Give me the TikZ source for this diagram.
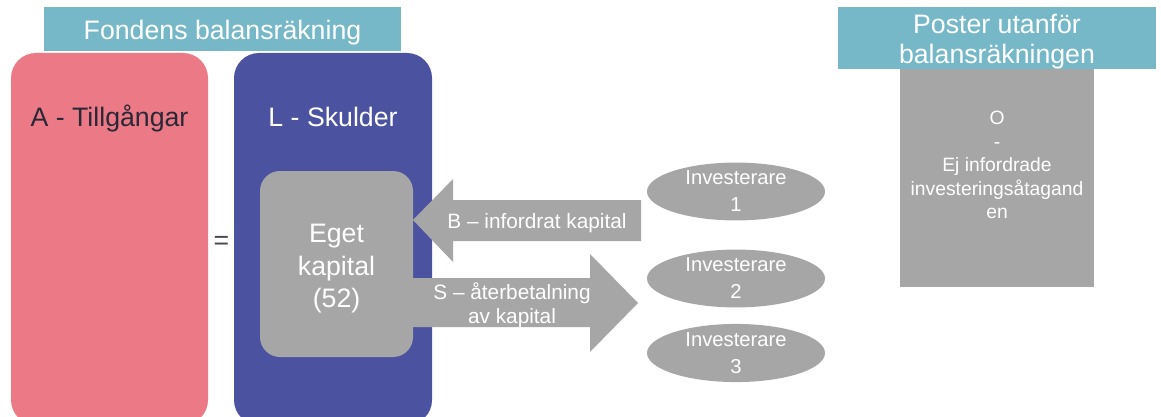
\documentclass[tikz,border=0pt]{standalone}
\usepackage{fontspec}
\setmainfont{Liberation Sans}
\usetikzlibrary{shapes.geometric}
\definecolor{bannerteal}{RGB}{118,184,200}
\definecolor{assetpink}{RGB}{236,122,134}
\definecolor{debtblue}{RGB}{75,83,160}
\definecolor{boxgrey}{RGB}{166,166,166}
\definecolor{darktext}{RGB}{40,40,55}
\begin{document}
\begin{tikzpicture}[x=1pt, y=-1pt,
        banner/.style={fill=bannerteal, inner sep=0pt},
        bannertext/.style={text=white, align=center, inner sep=0pt, font=\fontsize{26.7}{30}\selectfont},
        bigbox/.style={rounded corners=25pt, inner sep=0pt},
        boxname/.style={anchor=base, inner sep=0pt, font=\fontsize{26.7}{30}\selectfont},
        greybox/.style={fill=boxgrey, inner sep=0pt},
        investor/.style={ellipse, fill=boxgrey, text=white, align=center, inner sep=0pt, minimum width=178pt, minimum height=56pt, font=\fontsize{20.2}{27}\selectfont},
        arrowtext/.style={text=white, align=center, inner sep=0pt, font=\fontsize{20.8}{24}\selectfont}]
        \fill[white] (0,0) rectangle (1161,417);
        \useasboundingbox (0,0) rectangle (1161,417);
        \node[banner, minimum width=357pt, minimum height=44pt] (title) at (222.5,29) {};
        \node[bannertext] (titletext) at (222.5,33) {Fondens balansräkning};
        \node[bigbox, fill=assetpink, minimum width=197pt, minimum height=372pt] (assets) at (109.5,239) {};
        \node[boxname, text=darktext] (assetsname) at (109.5,127) {A - Tillgångar};
        \node[bigbox, fill=debtblue, minimum width=198pt, minimum height=372pt] (debts) at (333,239) {};
        \node[boxname, text=white] (debtsname) at (333,127) {L - Skulder};
        \node[text=darktext!85, inner sep=0pt, font=\fontsize{26.7}{30}\selectfont] (eq) at (221.5,243) {=};
        \node[greybox, rounded corners=20pt, minimum width=153pt, minimum height=186pt] (eget) at (336.5,264) {};
        \node[bannertext, font=\fontsize{26.7}{32.5}\selectfont] (egettext) at (336.5,269) {Eget\\kapital\\(52)};
        \fill[boxgrey] (413,220) -- (453,179) -- (453,200) -- (641,200) -- (641,241) -- (453,241) -- (453,262) -- cycle;
        \node[arrowtext] (callin) at (537,223) {B – infordrat kapital};
        \fill[boxgrey] (405,278) -- (590,278) -- (590,254) -- (638,303) -- (590,352) -- (590,327) -- (405,327) -- cycle;
        \node[arrowtext] (payback) at (512,305) {S – återbetalning\\av kapital};
        \foreach \i/\y in {1/191.5, 2/278.5, 3/353}
            \node[investor] (inv\i) at (736,\y) {Investerare\\\i};
        \node[greybox, minimum width=194pt, minimum height=218pt] (offbox) at (997,178) {};
        \node[banner, minimum width=318pt, minimum height=62pt] (offtitle) at (997,38) {};
        \node[bannertext] (offtitletext) at (997,42) {Poster utanför\\balansräkningen};
        \node[text=white, align=center, anchor=north, inner sep=0pt, font=\fontsize{19.3}{23.5}\selectfont] (offtext) at (997,111) {O\\-\\Ej infordrade\\investeringsåtagand\\en};
    \end{tikzpicture}
\end{document}
